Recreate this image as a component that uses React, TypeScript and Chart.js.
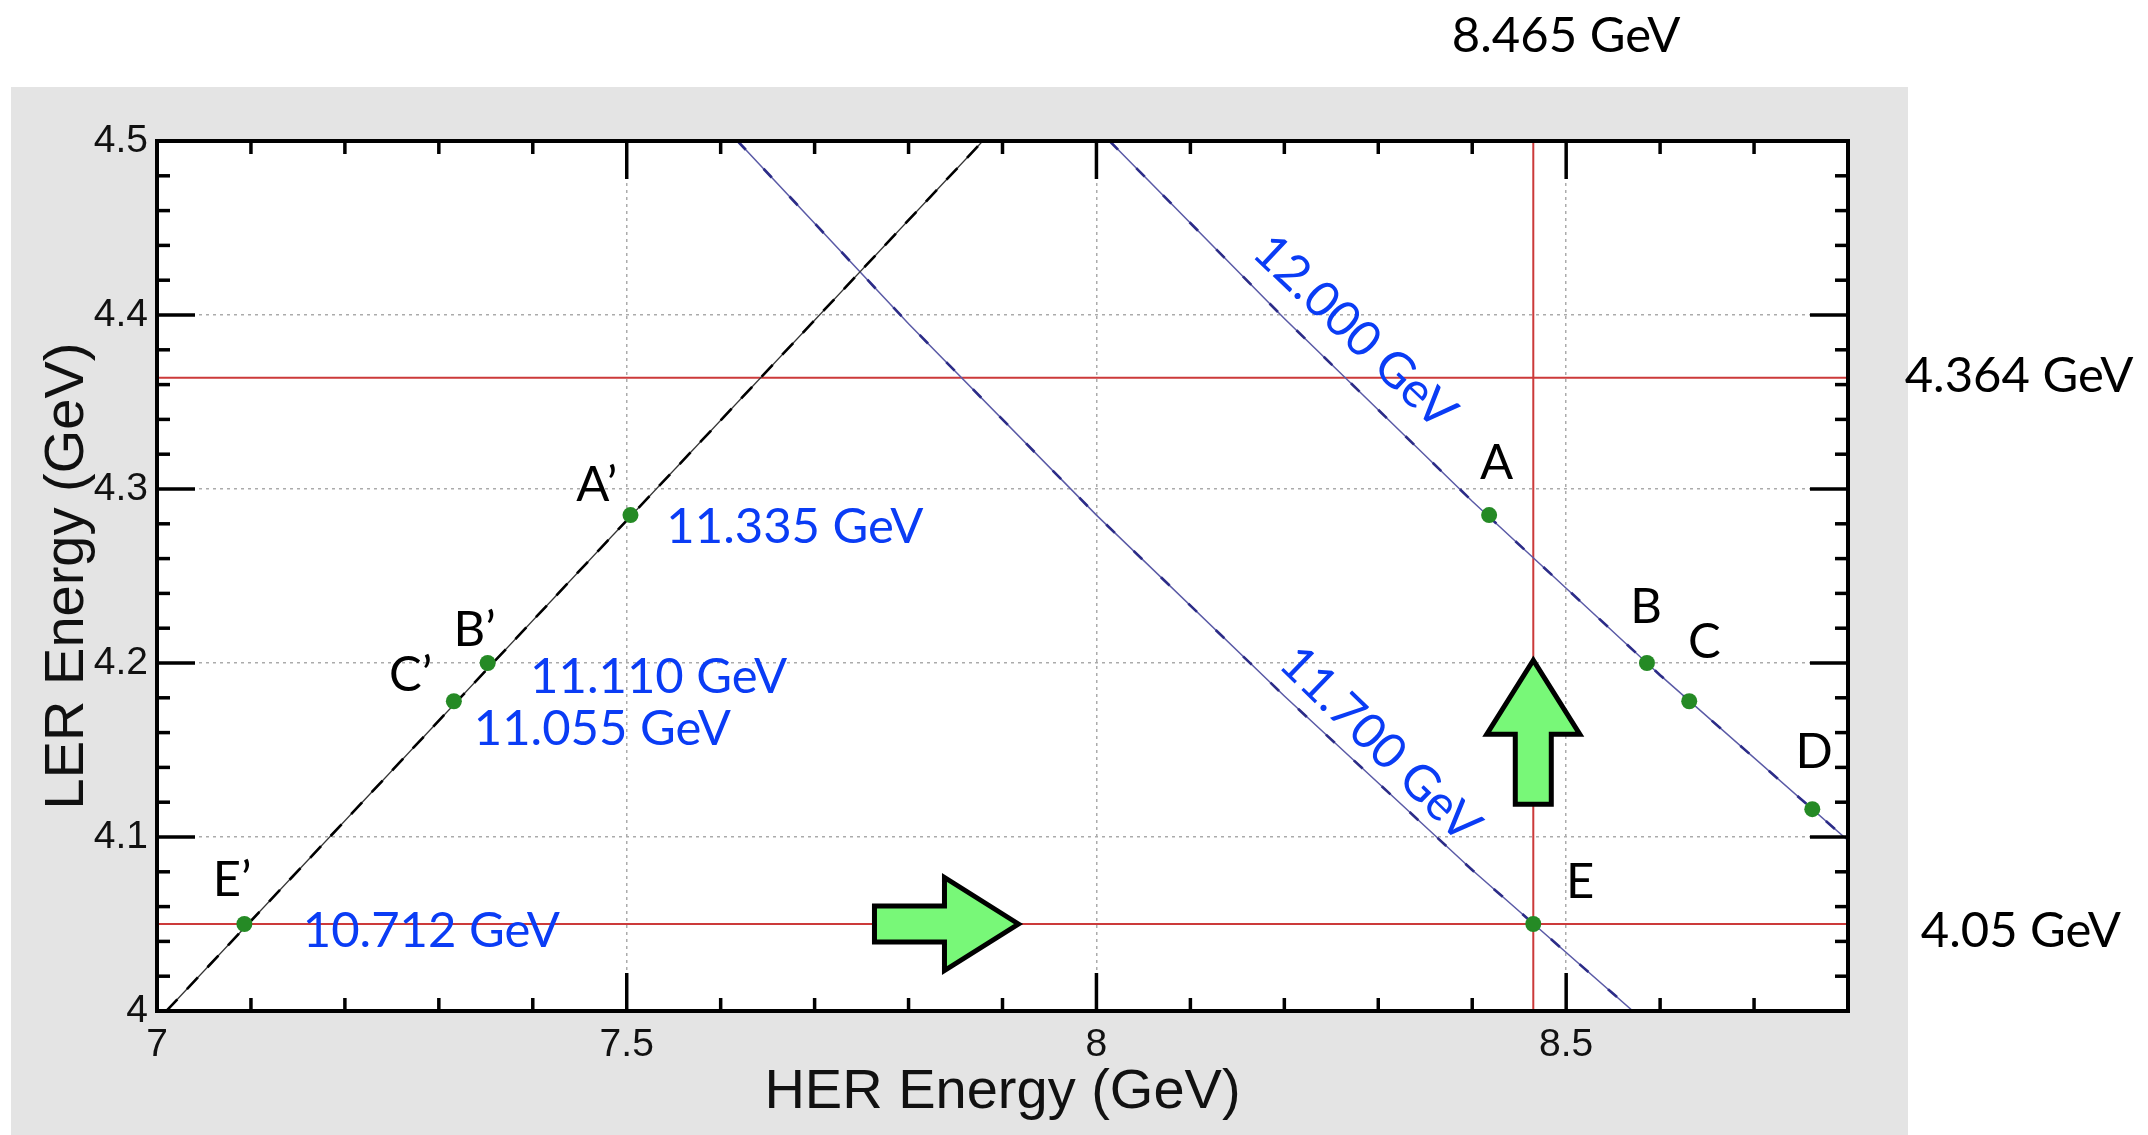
import React, { useEffect, useRef } from "react";
import { Chart, registerables } from "chart.js";

Chart.register(...registerables);

// ---------- axes ----------
const herMin = 7;
const herMax = 8.8;
const lerMin = 4;
const lerMax = 4.5;
const xMajorTicks = [7, 7.5, 8, 8.5];
const xTickLabels = ["7", "7.5", "8", "8.5"];
const xMinorTicks = [7.1, 7.2, 7.3, 7.4, 7.6, 7.7, 7.8, 7.9, 8.1, 8.2, 8.3, 8.4, 8.6, 8.7];
const yMajorTicks = [4, 4.1, 4.2, 4.3, 4.4, 4.5];
const yTickLabels = ["4", "4.1", "4.2", "4.3", "4.4", "4.5"];
const yMinorTicks = [
  4.02, 4.04, 4.06, 4.08, 4.12, 4.14, 4.16, 4.18, 4.22, 4.24, 4.26, 4.28,
  4.32, 4.34, 4.36, 4.38, 4.42, 4.44, 4.46, 4.48,
];

// ---------- curves ----------
const boostHer = [7.01, 7.879];
const boostLer = [4.0, 4.5];
const ecm12Her = [8.014, 8.2, 8.4, 8.6, 8.8];
const ecm12Ler = [4.5, 4.398, 4.293, 4.193, 4.098];
const ecm117Her = [7.618, 7.8, 8.0, 8.2, 8.4, 8.571];
const ecm117Ler = [4.5, 4.395, 4.285, 4.181, 4.081, 4.0];

// reference lines
const refLer = [4.364, 4.05];
const refHer = [8.465];

// ---------- points ----------
const pointNames = ["A’", "B’", "C’", "E’", "A", "B", "C", "D", "E"];
const pointHer = [7.504, 7.352, 7.316, 7.093, 8.418, 8.586, 8.631, 8.762, 8.465];
const pointLer = [4.285, 4.2, 4.178, 4.05, 4.285, 4.2, 4.178, 4.116, 4.05];
const nameHer = [7.468, 7.338, 7.27, 7.08, 8.426, 8.585, 8.647, 8.764, 8.515];
const nameLer = [4.303, 4.22, 4.194, 4.076, 4.316, 4.233, 4.213, 4.15, 4.075];

// ---------- annotations ----------
const ecmTexts = ["11.335 GeV", "11.110 GeV", "11.055 GeV", "10.712 GeV"];
const ecmTextHer = [7.679, 7.534, 7.474, 7.292];
const ecmTextLer = [4.279, 4.193, 4.163, 4.047];

const curveTexts = ["12.000 GeV", "11.700 GeV"];
const curveTextHer = [8.276, 8.303];
const curveTextLer = [4.391, 4.154];

const refTexts = ["8.465 GeV", "4.364 GeV", "4.05 GeV"];
const refTextHer = [8.5, 8.982, 8.984];
const refTextLer = [4.561, 4.366, 4.047];

const arrowTipHer = [7.917, 8.465];
const arrowTipLer = [4.05, 4.2016];
const arrowDirs = ["right", "up"];

const toXY = (xs: number[], ys: number[]) => xs.map((x, i) => ({ x, y: ys[i] }));

const LABEL_FONT = "Lato, 'Open Sans', sans-serif";
const AXIS_FONT = "'Liberation Sans', Arial, sans-serif";

function drawText(
  ctx: CanvasRenderingContext2D,
  text: string,
  x: number,
  y: number,
  size: number,
  color: string,
  angle = 0
) {
  ctx.save();
  ctx.translate(x, y);
  if (angle) ctx.rotate(angle);
  ctx.font = `${size}px ${LABEL_FONT}`;
  ctx.fillStyle = color;
  ctx.textAlign = "center";
  ctx.textBaseline = "alphabetic";
  ctx.fillText(text, 0, size * 0.358);
  ctx.restore();
}

function drawArrow(ctx: CanvasRenderingContext2D, tx: number, ty: number, dir: string) {
  const L = 144, HL = 74, HW = 93, TW = 36;
  ctx.save();
  ctx.translate(tx, ty);
  if (dir === "up") ctx.rotate(-Math.PI / 2);
  ctx.beginPath();
  ctx.moveTo(0, 0);
  ctx.lineTo(-HL, -HW / 2);
  ctx.lineTo(-HL, -TW / 2);
  ctx.lineTo(-L, -TW / 2);
  ctx.lineTo(-L, TW / 2);
  ctx.lineTo(-HL, TW / 2);
  ctx.lineTo(-HL, HW / 2);
  ctx.closePath();
  ctx.fillStyle = "#78f878";
  ctx.fill();
  ctx.lineWidth = 5;
  ctx.lineJoin = "miter";
  ctx.strokeStyle = "#000";
  ctx.stroke();
  ctx.restore();
}

const decorPlugin = {
  id: "decor",
  beforeDraw(chart: any) {
    const { ctx, chartArea: a } = chart;
    ctx.save();
    ctx.fillStyle = "#ffffff";
    ctx.fillRect(a.left, a.top, a.right - a.left, a.bottom - a.top);
    ctx.restore();
  },
  afterDatasetsDraw(chart: any) {
    const { ctx } = chart;
    const xs = chart.scales.x;
    const ys = chart.scales.y;
    const px = (v: number) => xs.getPixelForValue(v);
    const py = (v: number) => ys.getPixelForValue(v);

    arrowDirs.forEach((d, i) => drawArrow(ctx, px(arrowTipHer[i]), py(arrowTipLer[i]), d));

    pointNames.forEach((t, i) => drawText(ctx, t, px(nameHer[i]), py(nameLer[i]), 49, "#000"));
    ecmTexts.forEach((t, i) => drawText(ctx, t, px(ecmTextHer[i]), py(ecmTextLer[i]), 49, "#0a3cf5"));
    const curves = [
      [ecm12Her, ecm12Ler],
      [ecm117Her, ecm117Ler],
    ];
    curveTexts.forEach((t, i) => {
      const [h, l] = curves[i];
      const n = h.length - 1;
      const ang = Math.atan2(py(l[n]) - py(l[0]), px(h[n]) - px(h[0]));
      drawText(ctx, t, px(curveTextHer[i]), py(curveTextLer[i]), 49, "#0a3cf5", ang);
    });
  },
  afterDraw(chart: any) {
    const { ctx, chartArea: a } = chart;
    const xs = chart.scales.x;
    const ys = chart.scales.y;
    ctx.save();
    ctx.strokeStyle = "#000";
    ctx.lineWidth = 3.5;
    ctx.lineCap = "butt";
    const major = 38, minor = 13;
    const tick = (x1: number, y1: number, x2: number, y2: number) => {
      ctx.beginPath();
      ctx.moveTo(x1, y1);
      ctx.lineTo(x2, y2);
      ctx.stroke();
    };
    xMajorTicks.forEach((v) => {
      const x = xs.getPixelForValue(v);
      tick(x, a.bottom, x, a.bottom - major);
      tick(x, a.top, x, a.top + major);
    });
    xMinorTicks.forEach((v) => {
      const x = xs.getPixelForValue(v);
      tick(x, a.bottom, x, a.bottom - minor);
      tick(x, a.top, x, a.top + minor);
    });
    yMajorTicks.forEach((v) => {
      const y = ys.getPixelForValue(v);
      tick(a.left, y, a.left + major, y);
      tick(a.right, y, a.right - major, y);
    });
    yMinorTicks.forEach((v) => {
      const y = ys.getPixelForValue(v);
      tick(a.left, y, a.left + minor, y);
      tick(a.right, y, a.right - minor, y);
    });
    ctx.lineWidth = 4;
    ctx.strokeRect(a.left, a.top, a.right - a.left, a.bottom - a.top);
    ctx.restore();

    refTexts.forEach((t, i) =>
      drawText(ctx, t, xs.getPixelForValue(refTextHer[i]), ys.getPixelForValue(refTextLer[i]), 49, "#000")
    );
  },
};

export default function App() {
  const canvasRef = useRef<HTMLCanvasElement | null>(null);

  useEffect(() => {
    const canvas = canvasRef.current;
    if (!canvas) return;

    const redStyle = { borderColor: "#cc3a3a", borderWidth: 2, pointRadius: 0, showLine: true, order: 4 };
    const datasets: any[] = [
      {
        data: toXY(pointHer, pointLer),
        pointRadius: 8,
        pointBackgroundColor: "#258a25",
        pointBorderWidth: 0,
        showLine: false,
        order: 0,
      },
      { data: toXY(boostHer, boostLer), borderColor: "#000", borderWidth: 2.6, borderDash: [16, 14], pointRadius: 0, showLine: true, order: 1 },
      { data: toXY(boostHer, boostLer), borderColor: "#333", borderWidth: 1.3, pointRadius: 0, showLine: true, order: 1 },
      { data: toXY(ecm12Her, ecm12Ler), borderColor: "#2c2c88", borderWidth: 2.6, borderDash: [12, 26], pointRadius: 0, showLine: true, order: 2 },
      { data: toXY(ecm12Her, ecm12Ler), borderColor: "#5a5aa6", borderWidth: 1.5, pointRadius: 0, showLine: true, order: 2 },
      { data: toXY(ecm117Her, ecm117Ler), borderColor: "#2c2c88", borderWidth: 2.6, borderDash: [12, 26], pointRadius: 0, showLine: true, order: 2 },
      { data: toXY(ecm117Her, ecm117Ler), borderColor: "#5a5aa6", borderWidth: 1.5, pointRadius: 0, showLine: true, order: 2 },
      ...refLer.map((v) => ({ ...redStyle, data: toXY([herMin, herMax], [v, v]) })),
      ...refHer.map((v) => ({ ...redStyle, data: toXY([v, v], [lerMin, lerMax]) })),
    ];

    const chart = new Chart(canvas, {
      type: "scatter",
      data: { datasets },
      options: {
        animation: false,
        responsive: false,
        devicePixelRatio: 1,
        events: [],
        layout: { padding: { top: 141, right: 300, left: 0, bottom: 0 } },
        plugins: {
          legend: { display: false },
          tooltip: { enabled: false },
          title: { display: false },
        },
        scales: {
          x: {
            type: "linear",
            min: herMin,
            max: herMax,
            position: "bottom",
            afterBuildTicks: (axis: any) => {
              axis.ticks = xMajorTicks.map((v) => ({ value: v }));
            },
            afterFit: (axis: any) => {
              axis.height = 124;
            },
            ticks: {
              autoSkip: false,
              maxRotation: 0,
              padding: 11,
              color: "#111",
              font: { family: AXIS_FONT, size: 39 },
              callback: (_v: any, i: number) => xTickLabels[i],
            },
            grid: { color: "#ababab", lineWidth: 1.5, drawTicks: false },
            border: { display: false, dash: [3, 4] },
            title: {
              display: true,
              text: "HER Energy (GeV)",
              color: "#111",
              font: { family: AXIS_FONT, size: 56 },
              padding: { top: 0, bottom: 9 },
            },
          },
          y: {
            type: "linear",
            min: lerMin,
            max: lerMax,
            position: "left",
            afterBuildTicks: (axis: any) => {
              axis.ticks = yMajorTicks.map((v) => ({ value: v }));
            },
            afterFit: (axis: any) => {
              axis.width = 157;
            },
            ticks: {
              autoSkip: false,
              padding: 9,
              color: "#111",
              font: { family: AXIS_FONT, size: 39 },
              callback: (_v: any, i: number) => yTickLabels[i],
            },
            grid: { color: "#ababab", lineWidth: 1.5, drawTicks: false },
            border: { display: false, dash: [3, 4] },
            title: {
              display: true,
              text: "LER Energy (GeV)",
              color: "#111",
              font: { family: AXIS_FONT, size: 56 },
              padding: { top: 34, bottom: 0 },
            },
          },
        },
      } as any,
      plugins: [decorPlugin as any],
    });

    return () => chart.destroy();
  }, []);

  return (
    <div style={{ position: "absolute", left: 0, top: 0, width: 2148, height: 1135, background: "#fff", overflow: "hidden" }}>
      <div style={{ position: "absolute", left: 11, top: 87, width: 1897, height: 1048, background: "#e4e4e4" }} />
      <canvas
        ref={canvasRef}
        width={2148}
        height={1135}
        style={{ position: "absolute", left: 0, top: 0, width: 2148, height: 1135 }}
      />
    </div>
  );
}
